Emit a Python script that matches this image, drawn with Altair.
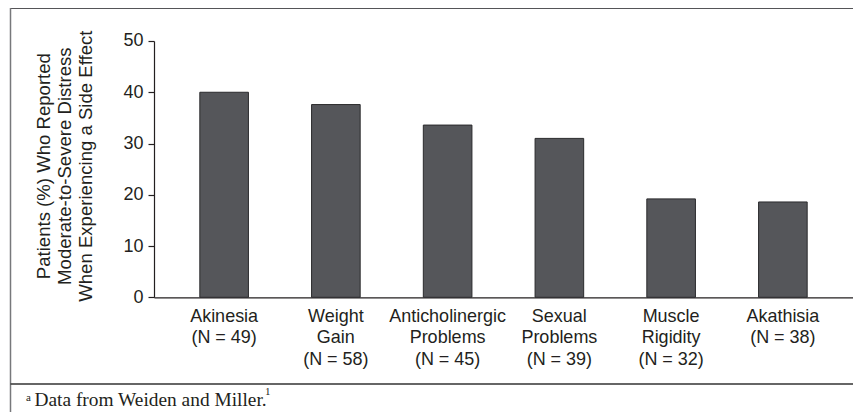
import altair as alt
import pandas as pd

categories = ["Akinesia|(N = 49)", "Weight|Gain|(N = 58)", "Anticholinergic|Problems|(N = 45)",
              "Sexual|Problems|(N = 39)", "Muscle|Rigidity|(N = 32)", "Akathisia|(N = 38)"]
values = [40.0, 37.6, 33.6, 31.0, 19.2, 18.6]
y_title_lines = ["Patients (%) Who Reported", "Moderate-to-Severe Distress", "When Experiencing a Side Effect"]
footnote = "Data from Weiden and Miller."
footnote_pre = "a"
footnote_post = "1"

TEXT = "#231f20"
FONT = "Liberation Sans"
SERIF = "Liberation Serif"
W, H = 699, 256.3

df = pd.DataFrame({"cat": categories, "val": values})
one = pd.DataFrame({"k": [0]})

bars = alt.Chart(df).mark_bar(color="#55565a", stroke="#2a2a2c", strokeWidth=1).encode(
    x=alt.X("cat:N", sort=categories,
            scale=alt.Scale(paddingInner=0.565, paddingOuter=0.41),
            axis=alt.Axis(title=None, labelAngle=0, ticks=False, labelPadding=10,
                          labelExpr="split(datum.label, '|')", labelLineHeight=21.5,
                          labelFontSize=18, labelFont=FONT, labelColor=TEXT,
                          domainColor=TEXT, domainWidth=1.2, labelBaseline="top")),
    y=alt.Y("val:Q", scale=alt.Scale(domain=[0, 50], nice=False),
            axis=alt.Axis(title=None, values=[0, 10, 20, 30, 40, 50], tickSize=6,
                          labelPadding=5, labelFontSize=18, labelFont=FONT, labelColor=TEXT,
                          domainColor=TEXT, tickColor=TEXT, domainWidth=1.2, tickWidth=1.2,
                          grid=False)),
)

ytitle = alt.Chart(one).mark_text(angle=270, align="center", baseline="middle", fontSize=18.6,
                                  font=FONT, color=TEXT, lineHeight=21).encode(
    x=alt.value(-110), y=alt.value(H / 2 - 3), text=alt.value(y_title_lines))

frame_top = alt.Chart(one).mark_rule(color="#555558", strokeWidth=2).encode(
    x=alt.value(-143.5), x2=alt.value(W + 10), y=alt.value(-33))
frame_left = alt.Chart(one).mark_rule(color="#77787b", strokeWidth=1.5).encode(
    x=alt.value(-143.5), y=alt.value(-33), y2=alt.value(385))
sep = alt.Chart(one).mark_rule(color="#333333", strokeWidth=1.3).encode(
    x=alt.value(-143.5), x2=alt.value(W + 10), y=alt.value(343))

fn_a = alt.Chart(one).mark_text(align="left", baseline="alphabetic", fontSize=11,
                                font=SERIF, color=TEXT).encode(
    x=alt.value(-128), y=alt.value(360), text=alt.value(footnote_pre))
fn = alt.Chart(one).mark_text(align="left", baseline="alphabetic", fontSize=19.4,
                              font=SERIF, color=TEXT).encode(
    x=alt.value(-119.5), y=alt.value(365), text=alt.value(footnote))
fn_1 = alt.Chart(one).mark_text(align="left", baseline="alphabetic", fontSize=11,
                                font=SERIF, color=TEXT).encode(
    x=alt.value(111), y=alt.value(354.5), text=alt.value(footnote_post))

chart = alt.layer(bars, ytitle, frame_top, frame_left, sep, fn_a, fn, fn_1).properties(
    width=W, height=H,
    autosize=alt.AutoSizeParams(type="none"),
    padding={"left": 146, "top": 33, "right": 0, "bottom": 116},
    background="white",
).configure_view(stroke=None)

chart.save("out.html", embed_options={"renderer": "svg", "actions": False})
